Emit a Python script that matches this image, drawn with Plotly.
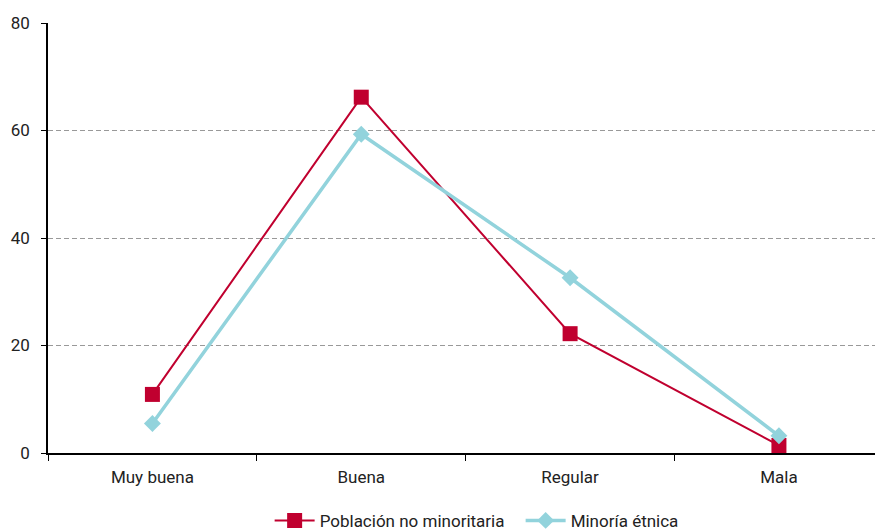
import plotly.graph_objects as go

categories = ["Muy buena", "Buena", "Regular", "Mala"]
no_minoritaria = [10.9, 66.2, 22.2, 1.4]
minoria_etnica = [5.5, 59.3, 32.6, 3.2]
series_names = ["Población no minoritaria", "Minoría étnica"]
y_ticks = [0, 20, 40, 60, 80]

RED = "#C0002F"
CYAN = "#92D3DC"
FONT = "Roboto"

fig = go.Figure()
fig.add_trace(go.Scatter(
    x=categories, y=no_minoritaria, name=series_names[0], mode="lines+markers",
    line=dict(color=RED, width=2),
    marker=dict(symbol="square", size=15, color=RED),
))
fig.add_trace(go.Scatter(
    x=categories, y=minoria_etnica, name=series_names[1], mode="lines+markers",
    line=dict(color=CYAN, width=3.5),
    marker=dict(symbol="diamond", size=13, color=CYAN),
))

fig.update_layout(
    width=875, height=532,
    margin=dict(l=48, r=0, t=23, b=79, autoexpand=False),
    paper_bgcolor="white", plot_bgcolor="white",
    font=dict(family=FONT, size=17, color="#222222"),
    showlegend=True,
    legend=dict(orientation="h", x=0.268, xanchor="left",
                yref="container", y=0.021, yanchor="middle",
                entrywidth=196, entrywidthmode="pixels",
                font=dict(family=FONT, size=17, color="#222222"), itemwidth=40,
                tracegroupgap=0),
    xaxis=dict(
        type="category", range=[-0.5, 3.46], tickson="boundaries",
        ticks="outside", ticklen=6, tickcolor="black", tickwidth=1.2,
        showline=True, linecolor="black", linewidth=1.5,
        showgrid=False, zeroline=False, automargin=False,
        ticklabelstandoff=8,
    ),
    yaxis=dict(
        range=[0, 80], tickvals=y_ticks, ticks="outside", ticklen=5,
        tickcolor="black", tickwidth=1.2,
        showline=True, linecolor="black", linewidth=1.5,
        showgrid=True, gridcolor="#999999", griddash="5px,3px", gridwidth=1,
        zeroline=False, ticklabelstandoff=8, automargin=False,
    ),
)

fig.write_html("out.html")
